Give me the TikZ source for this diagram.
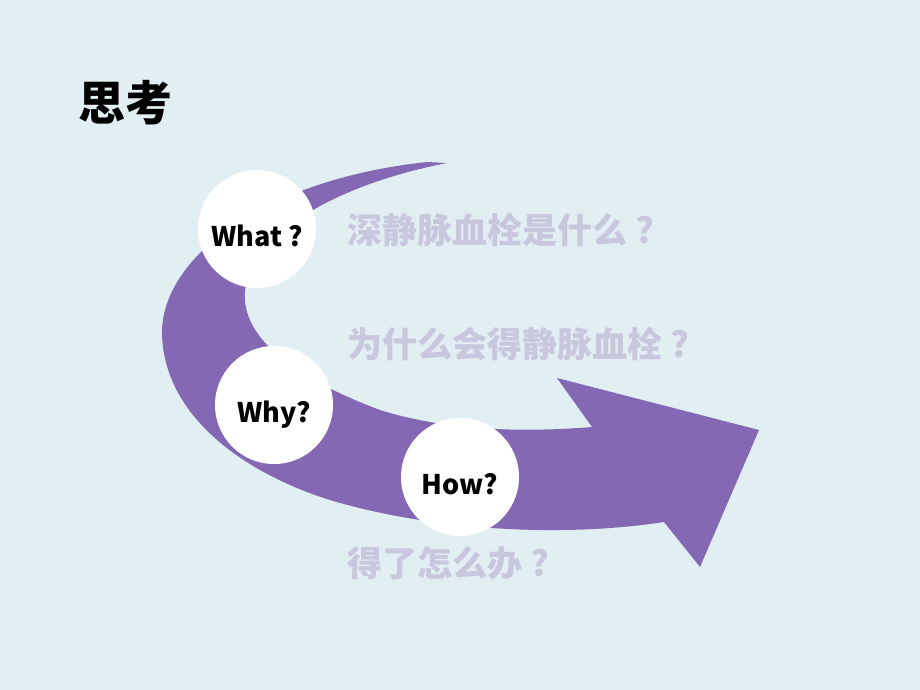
\documentclass[tikz,border=0pt]{standalone}
\usepackage{fontspec}
\setmainfont{Noto Sans CJK SC}
\definecolor{bgblue}{HTML}{E1EEF2}
\definecolor{arrowpurple}{HTML}{8468B4}
\definecolor{askgray}{HTML}{C8C7DD}
\newcommand{\fwq}{\makebox[1em]{?}}

\tikzset{
  qcircle/.style={circle, fill=white, minimum size=118pt, inner sep=0pt,
    font=\fontsize{27}{32}\selectfont\bfseries, text height=34pt, text depth=0pt},
  askline/.style={anchor=west, inner sep=0pt, text=askgray,
    font=\fontsize{35}{40}\selectfont\bfseries}
}

\begin{document}
\begin{tikzpicture}[x=1pt,y=-1pt]
  \fill[bgblue] (0,0) rectangle (920,690);
  \useasboundingbox (0,0) rectangle (920,690);

  % the curved arrow
  \fill[arrowpurple] (447,163) .. controls (360,180) and (260,220) .. (245,290)
    .. controls (240,340) and (300,380) .. (380,410)
    .. controls (450,432) and (530,432) .. (592,427)
    -- (557,378) -- (759,430) -- (700,567) -- (664,522)
    .. controls (560,538) and (430,530) .. (330,500)
    .. controls (250,475) and (165,420) .. (162,335)
    .. controls (160,260) and (260,180) .. (427,162) -- cycle;

  \node[anchor=west, inner sep=0pt, font=\fontsize{47}{52}\selectfont\bfseries] (title) at (78,103) {思考};

  \node[qcircle] (what) at (257,229) {What ?};
  \node[qcircle] (why) at (274,405) {Why?};
  \node[qcircle] (how) at (460,477) {How?};

  \node[askline] (whatq) at (347,230) {深静脉血栓是什么\fwq};
  \node[askline] (whyq) at (347,344) {为什么会得静脉血栓\fwq};
  \node[askline] (howq) at (347,563) {得了怎么办\fwq};
\end{tikzpicture}
\end{document}
